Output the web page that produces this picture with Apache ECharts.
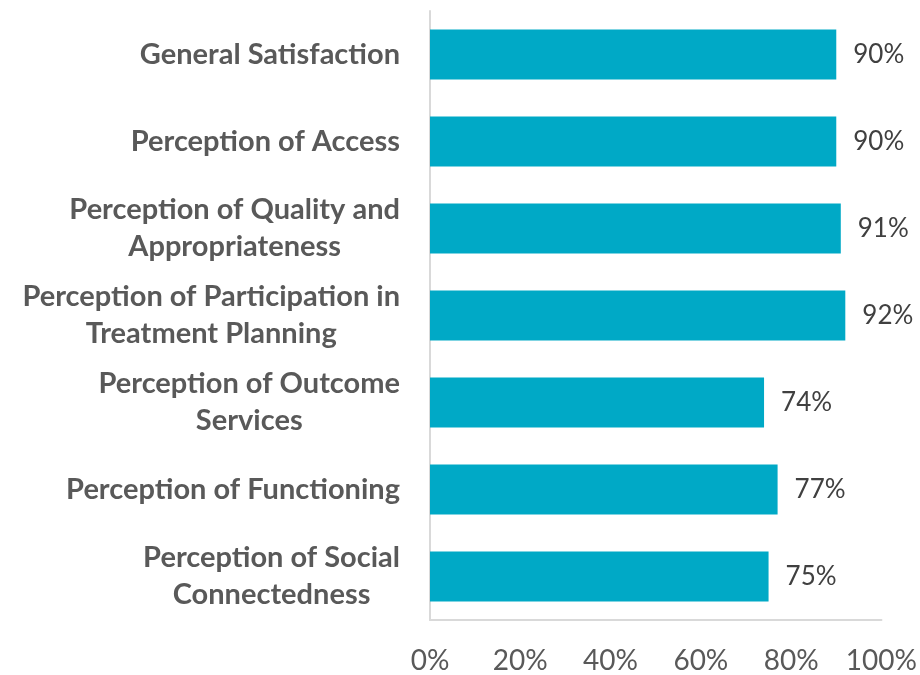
<!DOCTYPE html>
<html>
<head>
<meta charset="utf-8">
<script src="https://cdn.jsdelivr.net/npm/echarts@6/dist/echarts.min.js"></script>
<style>
  html, body { margin: 0; padding: 0; background: #ffffff; }
  #chart { width: 920px; height: 675px; }
</style>
</head>
<body>
<div id="chart"></div>
<script>
// Survey domains, top to bottom
const categories = [
  'General Satisfaction',
  'Perception of Access',
  'Perception of Quality and\nAppropriateness',
  'Perception of Participation in\nTreatment Planning',
  'Perception of Outcome\nServices',
  'Perception of Functioning',
  'Perception of Social\nConnectedness'
];
// Percent of positive responses per domain
const percentPositive = [90, 90, 91, 92, 74, 77, 75];
// Horizontal axis ticks
const xTicks = [0, 20, 40, 60, 80, 100];

const FONT = 'Lato, "Open Sans", sans-serif';

const chart = echarts.init(document.getElementById('chart'), null, { renderer: 'canvas' });

chart.setOption({
  animation: false,
  backgroundColor: '#ffffff',
  grid: { left: 430, right: 35, top: 11, bottom: 52, containLabel: false },
  xAxis: {
    type: 'value',
    min: xTicks[0],
    max: xTicks[xTicks.length - 1],
    interval: xTicks[1] - xTicks[0],
    axisLine: { show: true, lineStyle: { color: '#d9d9d9', width: 2 } },
    axisTick: { show: false },
    splitLine: { show: false },
    axisLabel: {
      formatter: '{value}%',
      color: '#595959',
      fontFamily: FONT,
      fontSize: 28,
      margin: 27
    }
  },
  yAxis: {
    type: 'category',
    inverse: true,
    data: categories,
    axisLine: { show: true, lineStyle: { color: '#d9d9d9', width: 2 } },
    axisTick: { show: false },
    splitLine: { show: false },
    axisLabel: {
      margin: 30,
      align: 'right',
      formatter: function (v) {
        return v.split('\n').map(function (line) { return '{c|' + line + '}'; }).join('\n');
      },
      rich: {
        c: {
          align: 'center',
          color: '#595959',
          fontFamily: FONT,
          fontWeight: 'bold',
          fontSize: 29,
          lineHeight: 37
        }
      }
    }
  },
  series: [{
    type: 'bar',
    data: percentPositive,
    barWidth: 50,
    itemStyle: { color: '#00a9c6' },
    label: {
      show: true,
      position: 'right',
      distance: 17,
      formatter: '{c}%',
      color: '#404040',
      fontFamily: FONT,
      fontSize: 26
    }
  }]
});
</script>
</body>
</html>
